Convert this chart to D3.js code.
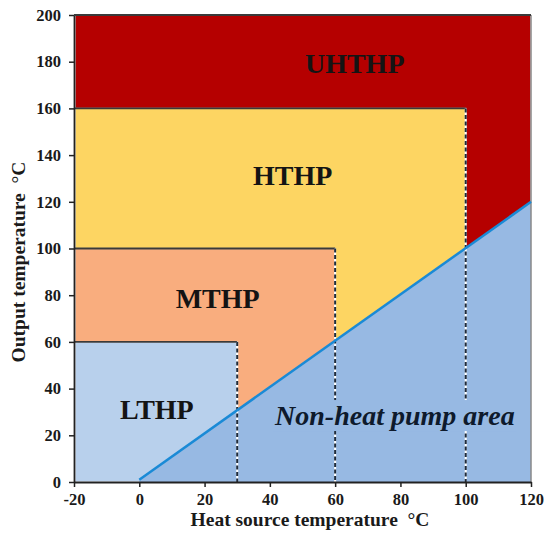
<!DOCTYPE html>
<html>
<head>
<meta charset="utf-8">
<script src="https://cdn.jsdelivr.net/npm/d3@7"></script>
<style>
  body { margin: 0; background: #fff; }
  text { font-family: "Liberation Serif", "Times New Roman", serif; font-weight: bold; white-space: pre; }
</style>
</head>
<body>
<svg id="chart" width="546" height="533"></svg>
<script>
// heat pump classes, nested from the outside in
const classes = ["UHTHP", "HTHP", "MTHP", "LTHP"];
const sourceMax = [120, 100, 60, 30];   // heat source upper limit, °C
const outputMax = [200, 160, 100, 60];  // output upper limit, °C
const classColors = ["#b50000", "#fdd562", "#f9ad7e", "#b8d0ec"];

// label anchor (center x, baseline y) in data units
const labelX = [66, 47, 24, 5.4];
const labelY = [175, 127, 74.5, 27];

// boundary where output temp equals source temp
const boundaryX = [0, 120];
const boundaryY = [1, 120];
const nonHpLabel = "Non-heat pump area";
const nonHpX = 78.3, nonHpY = 24.4;

const xTicks = [-20, 0, 20, 40, 60, 80, 100, 120];
const yTicks = [0, 20, 40, 60, 80, 100, 120, 140, 160, 180, 200];

const margin = { top: 15, right: 15, bottom: 51, left: 74 };
const width = 546, height = 533;
const svg = d3.select("#chart");

const x = d3.scaleLinear().domain([-20, 120]).range([margin.left, width - margin.right]);
const y = d3.scaleLinear().domain([0, 200]).range([height - margin.bottom, margin.top]);

const rows = classes.map((c, i) => ({ name: c, xMax: sourceMax[i], yMax: outputMax[i], color: classColors[i], lx: labelX[i], ly: labelY[i] }));

// nested rectangles
svg.selectAll(".zone")
  .data(rows)
  .join("rect")
  .attr("class", "zone")
  .attr("x", x(-20) + 1)
  .attr("y", d => y(d.yMax))
  .attr("width", d => x(d.xMax) - x(-20) - 1)
  .attr("height", d => y(0) - y(d.yMax))
  .attr("fill", d => d.color)
  .attr("stroke", "#fff")
  .attr("stroke-width", 1.2);

// non heat pump area below the boundary
const poly = [[boundaryX[0], 0], [boundaryX[0], boundaryY[0]], [boundaryX[1], boundaryY[1]], [boundaryX[1], 0]];
svg.append("path")
  .attr("d", d3.line().x(d => x(d[0])).y(d => y(d[1]))(poly) + "Z")
  .attr("fill", "#97b9e3");

// top edges solid
svg.selectAll(".top-edge")
  .data(rows)
  .join("line")
  .attr("class", "top-edge")
  .attr("x1", x(-20))
  .attr("x2", d => x(d.xMax))
  .attr("y1", d => y(d.yMax))
  .attr("y2", d => y(d.yMax))
  .attr("stroke", "#3a3a3a")
  .attr("stroke-width", 1.8);

// right edges: white under, dark dashes over
const inner = rows.slice(1);
svg.selectAll(".right-edge-bg")
  .data(inner)
  .join("line")
  .attr("class", "right-edge-bg")
  .attr("x1", d => x(d.xMax)).attr("x2", d => x(d.xMax))
  .attr("y1", d => y(d.yMax)).attr("y2", y(0))
  .attr("stroke", "#fff")
  .attr("stroke-width", 2);
svg.selectAll(".right-edge")
  .data(inner)
  .join("line")
  .attr("class", "right-edge")
  .attr("x1", d => x(d.xMax)).attr("x2", d => x(d.xMax))
  .attr("y1", d => y(d.yMax)).attr("y2", y(0))
  .attr("stroke", "#1e2a3a")
  .attr("stroke-width", 2)
  .attr("stroke-dasharray", "4,2.5");

// outer right border
svg.append("line")
  .attr("x1", x(120)).attr("x2", x(120))
  .attr("y1", y(200)).attr("y2", y(0))
  .attr("stroke", "#888")
  .attr("stroke-width", 1.5);

// boundary line
svg.append("line")
  .attr("x1", x(boundaryX[0])).attr("y1", y(boundaryY[0]))
  .attr("x2", x(boundaryX[1])).attr("y2", y(boundaryY[1]))
  .attr("stroke", "#1a8ad6")
  .attr("stroke-width", 2.5);

// class labels
svg.selectAll(".zone-label")
  .data(rows)
  .join("text")
  .attr("class", "zone-label")
  .attr("x", d => x(d.lx))
  .attr("y", d => y(d.ly))
  .attr("text-anchor", "middle")
  .attr("font-size", 28)
  .attr("fill", "#141414")
  .text(d => d.name);

const nh = svg.append("g");
const nhText = nh.append("text")
  .attr("x", x(nonHpX))
  .attr("y", y(nonHpY))
  .attr("text-anchor", "middle")
  .attr("font-size", 28)
  .attr("font-style", "italic")
  .attr("fill", "#0e1a2c")
  .text(nonHpLabel);
const bb = nhText.node().getBBox();
nh.insert("rect", "text")
  .attr("x", bb.x - 2).attr("y", bb.y)
  .attr("width", bb.width + 4).attr("height", bb.height)
  .attr("fill", "#97b9e3");

// axes
const xAxis = svg.append("g")
  .attr("transform", `translate(0,${y(0)})`)
  .call(d3.axisBottom(x).tickValues(xTicks).tickFormat(d => String(d)).tickSize(5).tickSizeOuter(0).tickPadding(6));
const yAxis = svg.append("g")
  .attr("transform", `translate(${x(-20)},0)`)
  .call(d3.axisLeft(y).tickValues(yTicks).tickFormat(d => String(d)).tickSize(5).tickSizeOuter(0).tickPadding(8));

[xAxis, yAxis].forEach(g => {
  g.select(".domain").attr("stroke", "#222").attr("stroke-width", 1.8);
  g.selectAll(".tick line").attr("stroke", "#222").attr("stroke-width", 1.5);
  g.selectAll(".tick text")
    .attr("font-family", "'Liberation Serif', serif")
    .attr("font-weight", "bold")
    .attr("font-size", 16.5)
    .attr("fill", "#1a1a1a");
});

// top border of plot
svg.append("line")
  .attr("x1", x(-20)).attr("x2", x(120))
  .attr("y1", y(200)).attr("y2", y(200))
  .attr("stroke", "#3a3a3a")
  .attr("stroke-width", 1.8);

// axis titles
svg.append("text")
  .attr("x", 310)
  .attr("y", 526)
  .attr("text-anchor", "middle")
  .attr("font-size", 19.5)
  .attr("fill", "#1a1a1a")
  .text("Heat source temperature  °C");

svg.append("text")
  .attr("transform", `translate(25,${262}) rotate(-90)`)
  .attr("text-anchor", "middle")
  .attr("font-size", 19.5)
  .attr("fill", "#1a1a1a")
  .text("Output temperature  °C");
</script>
</body>
</html>
